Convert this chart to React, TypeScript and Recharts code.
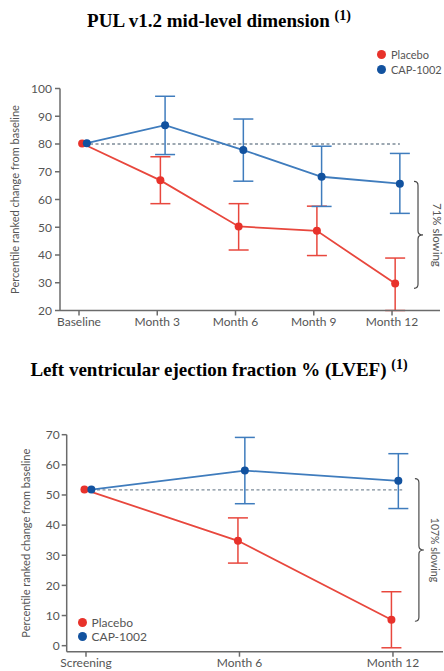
import React from 'react';
import { LineChart, Line, XAxis, YAxis, ErrorBar, ReferenceLine, ReferenceArea, Legend } from 'recharts';

// ---------- Data: PUL v1.2 mid-level dimension ----------
const pulCategories = ['Baseline', 'Month 3', 'Month 6', 'Month 9', 'Month 12'];
const pulPlaceboMean = [80.2, 66.9, 50.3, 48.7, 29.7];
const pulPlaceboLow = [null, 58.5, 41.8, 39.8, 20.0];
const pulPlaceboHigh = [null, 75.4, 58.5, 57.6, 38.9];
const pulCapMean = [80.3, 86.8, 77.8, 68.2, 65.7];
const pulCapLow = [null, 76.2, 66.6, 57.5, 55.0];
const pulCapHigh = [null, 97.2, 89.0, 79.2, 76.6];
const pulYTicks = [20, 30, 40, 50, 60, 70, 80, 90, 100];
const pulReference = 80;
const pulBracket = [28, 66.5];
const pulBracketLabel = '71% slowing';

// ---------- Data: LVEF ----------
const lvefCategories = ['Screening', 'Month 6', 'Month 12'];
const lvefPlaceboMean = [51.8, 34.8, 8.6];
const lvefPlaceboLow = [null, 27.4, -0.7];
const lvefPlaceboHigh = [null, 42.4, 17.9];
const lvefCapMean = [51.8, 58.1, 54.7];
const lvefCapLow = [null, 47.1, 45.5];
const lvefCapHigh = [null, 69.1, 63.7];
const lvefYTicks = [0, 10, 20, 30, 40, 50, 60, 70];
const lvefReference = 51.7;
const lvefBracket = [8.1, 55.4];
const lvefBracketLabel = '107% slowing';

const seriesNames = ['Placebo', 'CAP-1002'];

// ---------- Styles ----------
const RED_DOT = '#e8322b';
const RED_LINE = '#e8473d';
const BLUE_DOT = '#12529f';
const BLUE_LINE = '#3f7cbd';
const AXIS = '#6b6b6b';
const TEXT = '#555555';
const FONT = 'Lato, "Open Sans", sans-serif';
const dotColors: Record<string, string> = { 'Placebo': RED_DOT, 'CAP-1002': BLUE_DOT };

type Pt = { x: number; y: number; err: number[] | null };
function buildSeries(means: number[], lows: (number | null)[], highs: (number | null)[], dodge: number): Pt[] {
  return means.map((m, i) => ({
    x: i + dodge,
    y: m,
    err: lows[i] == null || highs[i] == null ? null : [m - (lows[i] as number), (highs[i] as number) - m],
  }));
}

const makeBrace = (label: string, fontSize: number) => (props: any) => {
  const { x, y, width, height } = props;
  const top = y;
  const bottom = y + height;
  const mid = y + height / 2;
  const bx = x;
  const d = `M ${bx - 4} ${top} Q ${bx} ${top} ${bx} ${top + 4} L ${bx} ${mid - 4} Q ${bx} ${mid} ${bx + 5} ${mid} Q ${bx} ${mid} ${bx} ${mid + 4} L ${bx} ${bottom - 4} Q ${bx} ${bottom} ${bx - 4} ${bottom}`;
  const tx = x + width;
  return (
    <g>
      <path d={d} fill="none" stroke="#4a4a4a" strokeWidth={1.2} />
      <text x={tx} y={mid} transform={`rotate(90 ${tx} ${mid})`} textAnchor="middle" dominantBaseline="central" fontSize={fontSize} fill={TEXT} fontFamily={FONT}>
        {label}
      </text>
    </g>
  );
};

const makeLegend = (rowH: number, fontSize: number) => () => (
  <div style={{ fontFamily: FONT, fontSize, color: TEXT, whiteSpace: 'nowrap' }}>
    {seriesNames.map((name) => (
      <div key={name} style={{ display: 'flex', alignItems: 'center', height: rowH, whiteSpace: 'nowrap' }}>
        <span style={{ display: 'inline-block', flex: '0 0 9px', width: 9, height: 9, borderRadius: '50%', background: dotColors[name], marginRight: 5 }} />
        <span style={{ whiteSpace: 'nowrap' }}>{name}</span>
      </div>
    ))}
  </div>
);

const yLabelText = 'Percentile ranked change from baseline';

function PulChart() {
  const placebo = buildSeries(pulPlaceboMean, pulPlaceboLow, pulPlaceboHigh, 0.04);
  const cap = buildSeries(pulCapMean, pulCapLow, pulCapHigh, 0.1);
  return (
    <LineChart width={444} height={300} margin={{ top: 18.5, right: 4, bottom: 4.5, left: 0 }} style={{ fontFamily: FONT }}>
      <XAxis
        type="number"
        dataKey="x"
        domain={[-0.2428, 4.613]}
        allowDataOverflow
        ticks={[0, 1, 2, 3, 4]}
        tickFormatter={(v: number) => pulCategories[Math.round(v)]}
        height={25}
        tickSize={5}
        tickMargin={2}
        stroke={AXIS}
        strokeWidth={1.5}
        tick={{ fill: TEXT, fontSize: 12 }}
      />
      <YAxis
        type="number"
        domain={[20, 100]}
        ticks={pulYTicks}
        width={60}
        tickSize={5}
        tickMargin={3}
        stroke={AXIS}
        strokeWidth={1.5}
        tick={{ fill: TEXT, fontSize: 12 }}
        label={{ value: yLabelText, angle: -90, position: 'insideLeft', offset: 15, style: { textAnchor: 'middle', fill: TEXT, fontSize: 11 } }}
      />
      <ReferenceLine segment={[{ x: 0, y: pulReference }, { x: 4.1, y: pulReference }]} stroke="#7d8c99" strokeDasharray="3 2.5" strokeWidth={1.3} />
      <ReferenceArea x1={4.332} x2={4.575} y1={pulBracket[0]} y2={pulBracket[1]} shape={makeBrace(pulBracketLabel, 11.5)} />
      <Line data={placebo} dataKey="y" name={seriesNames[0]} stroke={RED_LINE} strokeWidth={1.8} dot={{ r: 4, fill: RED_DOT, stroke: RED_DOT, strokeWidth: 0 }} isAnimationActive={false}>
        <ErrorBar dataKey="err" direction="y" width={10} stroke={RED_LINE} strokeWidth={1.5} isAnimationActive={false} />
      </Line>
      <Line data={cap} dataKey="y" name={seriesNames[1]} stroke={BLUE_LINE} strokeWidth={1.8} dot={{ r: 4, fill: BLUE_DOT, stroke: BLUE_DOT, strokeWidth: 0 }} isAnimationActive={false}>
        <ErrorBar dataKey="err" direction="y" width={10} stroke={BLUE_LINE} strokeWidth={1.5} isAnimationActive={false} />
      </Line>
      <Legend layout="vertical" align="center" verticalAlign="top" content={makeLegend(15, 11)} wrapperStyle={{ left: 377, top: 6.5, width: 66 }} />
    </LineChart>
  );
}

function LvefChart() {
  const placebo = buildSeries(lvefPlaceboMean, lvefPlaceboLow, lvefPlaceboHigh, -0.01);
  const cap = buildSeries(lvefCapMean, lvefCapLow, lvefCapHigh, 0.035);
  return (
    <LineChart width={444} height={281} margin={{ top: 16.7, right: 1, bottom: 0, left: 0 }} style={{ fontFamily: FONT }}>
      <XAxis
        type="number"
        dataKey="x"
        domain={[-0.1257, 2.326]}
        allowDataOverflow
        ticks={[0, 1, 2]}
        tickFormatter={(v: number) => lvefCategories[Math.round(v)]}
        height={19.3}
        tickSize={5}
        tickMargin={2}
        stroke={AXIS}
        strokeWidth={1.5}
        tick={{ fill: TEXT, fontSize: 12 }}
      />
      <YAxis
        type="number"
        domain={[-2, 70]}
        ticks={lvefYTicks}
        width={66.7}
        tickSize={5}
        tickMargin={2}
        stroke={AXIS}
        strokeWidth={1.5}
        tick={{ fill: TEXT, fontSize: 12 }}
        label={{ value: yLabelText, angle: -90, position: 'insideLeft', offset: 26, style: { textAnchor: 'middle', fill: TEXT, fontSize: 11 } }}
      />
      <ReferenceLine segment={[{ x: 0, y: lvefReference }, { x: 2.06, y: lvefReference }]} stroke="#7d8c99" strokeDasharray="3 2.5" strokeWidth={1.3} />
      <ReferenceArea x1={2.169} x2={2.274} y1={lvefBracket[0]} y2={lvefBracket[1]} shape={makeBrace(lvefBracketLabel, 10.5)} />
      <Line data={placebo} dataKey="y" name={seriesNames[0]} stroke={RED_LINE} strokeWidth={1.8} dot={{ r: 4, fill: RED_DOT, stroke: RED_DOT, strokeWidth: 0 }} isAnimationActive={false}>
        <ErrorBar dataKey="err" direction="y" width={10} stroke={RED_LINE} strokeWidth={1.5} isAnimationActive={false} />
      </Line>
      <Line data={cap} dataKey="y" name={seriesNames[1]} stroke={BLUE_LINE} strokeWidth={1.8} dot={{ r: 4, fill: BLUE_DOT, stroke: BLUE_DOT, strokeWidth: 0 }} isAnimationActive={false}>
        <ErrorBar dataKey="err" direction="y" width={10} stroke={BLUE_LINE} strokeWidth={1.5} isAnimationActive={false} />
      </Line>
      <Legend layout="vertical" align="center" verticalAlign="top" content={makeLegend(14, 12)} wrapperStyle={{ left: 77.5, top: 225, width: 80 }} />
    </LineChart>
  );
}

export default function App() {
  const titleFont = '"Liberation Serif", "Times New Roman", serif';
  return (
    <div style={{ position: 'absolute', left: 0, top: 0, width: 444, height: 671, background: '#ffffff', overflow: 'hidden' }}>
      <svg width={444} height={671} style={{ position: 'absolute', left: 0, top: 0 }}>
        <text x={219} y={27} textAnchor="middle" fontFamily={titleFont} fontWeight="bold" fontSize={19} fill="#000">
          PUL v1.2 mid-level dimension <tspan fontSize={14} dy={-7}>(1)</tspan>
        </text>
        <text x={219} y={376} textAnchor="middle" fontFamily={titleFont} fontWeight="bold" fontSize={19} fill="#000">
          Left ventricular ejection fraction % (LVEF) <tspan fontSize={14} dy={-7}>(1)</tspan>
        </text>
      </svg>
      <div style={{ position: 'absolute', left: 0, top: 40 }}>
        <PulChart />
      </div>
      <div style={{ position: 'absolute', left: 0, top: 390 }}>
        <LvefChart />
      </div>
    </div>
  );
}
